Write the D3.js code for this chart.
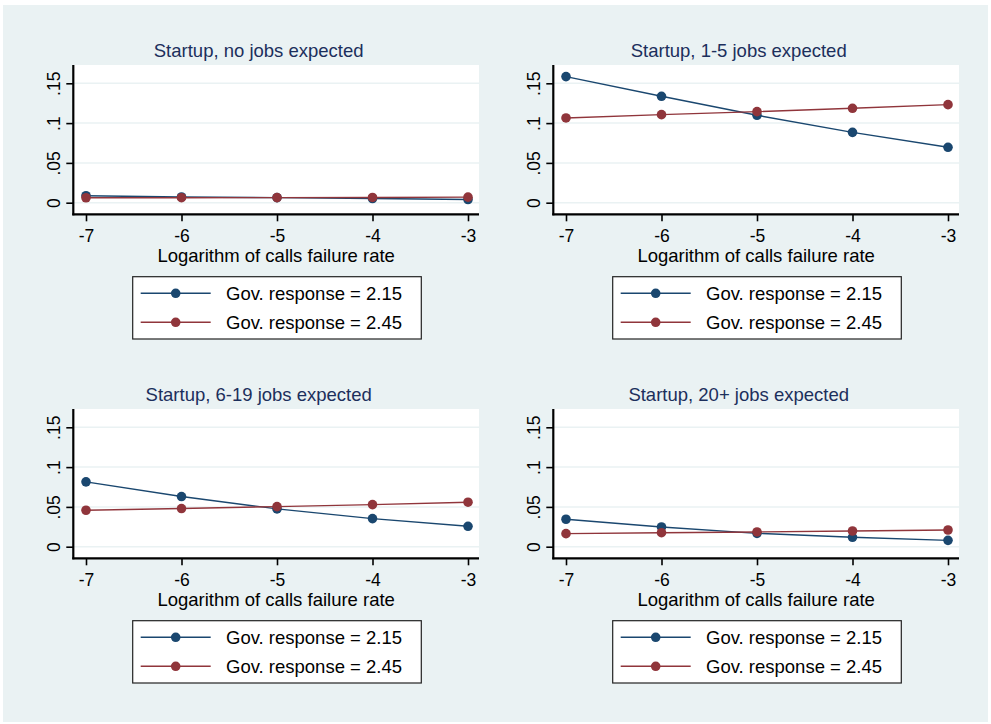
<!DOCTYPE html>
<html>
<head>
<meta charset="utf-8">
<script src="https://cdn.jsdelivr.net/npm/d3@7"></script>
<style>
  html, body { margin: 0; padding: 0; background: #ffffff; }
  svg { display: block; }
  text { font-family: "Liberation Sans", Arial, sans-serif; }
</style>
</head>
<body>
<svg id="chart" width="991" height="724"></svg>
<script>
// ---- Data ----
const xValues = [-7, -6, -5, -4, -3];
const yTicks = [0, 0.05, 0.1, 0.15];
const yTickLabels = ["0", ".05", ".1", ".15"];
const panelTitles = [
  "Startup, no jobs expected",
  "Startup, 1-5 jobs expected",
  "Startup, 6-19 jobs expected",
  "Startup, 20+ jobs expected"
];
const seriesNames = ["Gov. response = 2.15", "Gov. response = 2.45"];
const gov215 = [
  [0.0088, 0.0072, 0.0064, 0.0052, 0.0040],
  [0.1584, 0.1337, 0.1098, 0.0884, 0.0696],
  [0.0815, 0.0630, 0.0475, 0.0353, 0.0256],
  [0.0345, 0.0248, 0.0168, 0.0118, 0.0080]
];
const gov245 = [
  [0.0062, 0.0063, 0.0064, 0.0066, 0.0070],
  [0.1065, 0.1106, 0.1144, 0.1186, 0.1232],
  [0.0458, 0.0479, 0.0504, 0.0529, 0.0559],
  [0.0164, 0.0176, 0.0185, 0.0197, 0.0210]
];
const seriesColors = ["#1a476f", "#90353b"];
const xAxisTitle = "Logarithm of calls failure rate";

// ---- Layout ----
const svg = d3.select("#chart");
svg.append("rect").attr("x", 3).attr("y", 5).attr("width", 985).attr("height", 717)
  .attr("fill", "#eaf2f3");

const FS = 18.5, TFS = 17.5;
const colOffset = 480, rowOffset = 344;

panelTitles.forEach((title, i) => {
  const col = i % 2, row = Math.floor(i / 2);
  const dx = col * colOffset, dy = row * rowOffset;
  const plotL = 73.3 + dx, plotR = 479 + dx, plotT = 65 + dy, plotB = 214.3 + dy;
  const x = d3.scaleLinear().domain([-7, -3]).range([86 + dx, 468 + dx]);
  const y = d3.scaleLinear().domain([0, 0.15]).range([202.7 + dy, 83.3 + dy]);
  const g = svg.append("g");

  // plot region
  g.append("rect").attr("x", plotL).attr("y", plotT)
    .attr("width", plotR - plotL).attr("height", plotB - plotT).attr("fill", "#ffffff");

  // gridlines
  g.selectAll(".grid").data(yTicks).enter().append("line")
    .attr("x1", plotL).attr("x2", plotR)
    .attr("y1", d => y(d)).attr("y2", d => y(d))
    .attr("stroke", "#eaf2f3").attr("stroke-width", 1.5);

  // y axis
  const yAxis = d3.axisLeft(y).tickValues(yTicks)
    .tickFormat((d, k) => yTickLabels[k]).tickSize(7).tickSizeOuter(0);
  const ya = g.append("g").attr("transform", `translate(${plotL},0)`).call(yAxis);
  ya.select(".domain").remove();
  ya.selectAll(".tick line").attr("stroke", "#000").attr("stroke-width", 1.6);
  ya.selectAll(".tick text")
    .attr("x", 0).attr("y", 0).attr("dy", null)
    .attr("transform", `translate(${59.5 - 73.3},0) rotate(-90)`)
    .attr("text-anchor", "middle").attr("fill", "#000")
    .style("font-size", TFS + "px").style("font-family", "Liberation Sans, Arial, sans-serif");
  g.append("line").attr("x1", plotL).attr("x2", plotL).attr("y1", plotT).attr("y2", plotB + 1)
    .attr("stroke", "#000").attr("stroke-width", 2.2);

  // x axis
  const xAxis = d3.axisBottom(x).tickValues(xValues).tickFormat(d3.format("d"))
    .tickSize(7).tickSizeOuter(0);
  const xa = g.append("g").attr("transform", `translate(0,${plotB})`).call(xAxis);
  xa.select(".domain").remove();
  xa.selectAll(".tick line").attr("stroke", "#000").attr("stroke-width", 1.6);
  xa.selectAll(".tick text").attr("y", 27.5).attr("dy", null).attr("fill", "#000")
    .style("font-size", TFS + "px").style("font-family", "Liberation Sans, Arial, sans-serif")
    .text(d => (d < 0 ? "-" : "") + Math.abs(d));
  g.append("line").attr("x1", plotL - 1).attr("x2", plotR).attr("y1", plotB).attr("y2", plotB)
    .attr("stroke", "#000").attr("stroke-width", 2.2);

  // titles
  g.append("text").attr("x", 258.7 + dx).attr("y", 57.3 + dy).attr("text-anchor", "middle")
    .attr("fill", "#1c2f5c").style("font-size", FS + "px").text(title);
  g.append("text").attr("x", (plotL + plotR) / 2).attr("y", 261.5 + dy).attr("text-anchor", "middle")
    .attr("fill", "#000").style("font-size", FS + "px").text(xAxisTitle);

  // series
  const line = d3.line().x((d, k) => x(xValues[k])).y(d => y(d));
  [gov215[i], gov245[i]].forEach((vals, s) => {
    g.append("path").datum(vals).attr("d", line).attr("fill", "none")
      .attr("stroke", seriesColors[s]).attr("stroke-width", 1.4);
    g.selectAll(".pt" + s).data(vals).enter().append("circle")
      .attr("cx", (d, k) => x(xValues[k])).attr("cy", d => y(d)).attr("r", 4.8)
      .attr("fill", seriesColors[s]);
  });

  // legend
  const lx = 132.7 + dx, ly = 276.7 + dy;
  const lg = g.append("g").attr("transform", `translate(${lx},${ly})`);
  lg.append("rect").attr("x", 0).attr("y", 0).attr("width", 288.6).attr("height", 62.3)
    .attr("fill", "#ffffff").attr("stroke", "#222").attr("stroke-width", 1.2);
  seriesNames.forEach((name, s) => {
    const ry = 16.6 + s * 29;
    lg.append("line").attr("x1", 8).attr("x2", 78).attr("y1", ry).attr("y2", ry)
      .attr("stroke", seriesColors[s]).attr("stroke-width", 1.4);
    lg.append("circle").attr("cx", 43).attr("cy", ry).attr("r", 4.8).attr("fill", seriesColors[s]);
    lg.append("text").attr("x", 93.3).attr("y", ry + 6.5).attr("fill", "#000")
      .style("font-size", FS + "px").text(name);
  });
});
</script>
</body>
</html>
